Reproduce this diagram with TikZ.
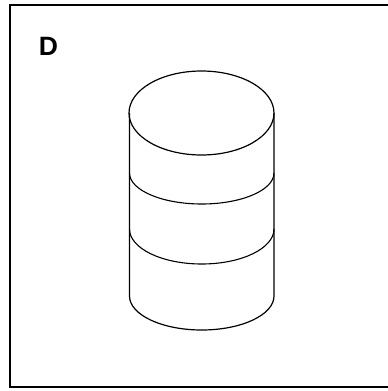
\documentclass[tikz,border=0pt]{standalone}
\usepackage{fontspec}
\setsansfont{Liberation Sans}
\begin{document}
\begin{tikzpicture}[x=1pt, y=-1pt, line width=1.2pt,
  band/.style={line width=1.1pt}]
\useasboundingbox (0,0) rectangle (388,391);
% frame, open on the right where the page ends
\draw[line width=2pt] (388,5) -- (9.5,5) -- (9.5,387) -- (388,387);
\node[font=\sffamily\bfseries\fontsize{26.5}{26.5}\selectfont, inner sep=0pt] (tag) at (48.5,46.5) {D};
% the drum: lid, sides and bottom rim
\draw (201.5,113) ellipse [x radius=72.5, y radius=42];
\draw (129.5,113) -- (129.5,296) arc[start angle=180, end angle=0, x radius=72.25, y radius=34] -- (274,113);
% the two rings round it
\draw[band] (129.5,173) arc[start angle=180, end angle=0, x radius=72.25, y radius=31];
\draw[band] (129.5,229) arc[start angle=180, end angle=0, x radius=72.25, y radius=35];
\end{tikzpicture}
\end{document}
